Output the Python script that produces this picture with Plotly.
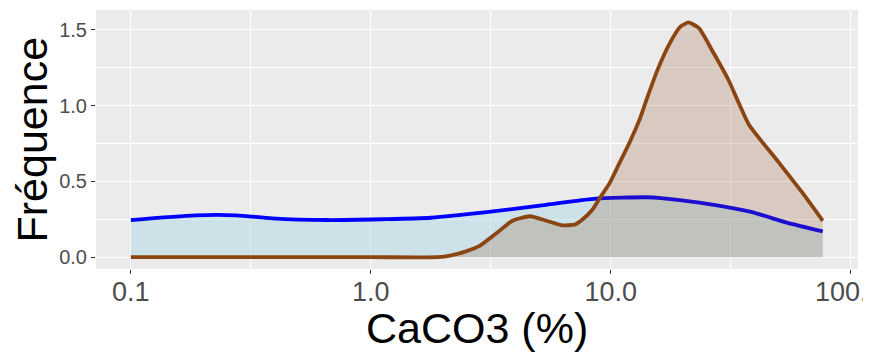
import plotly.graph_objects as go

# Blue series (CaCO3 %, frequency)
blue_x = [0.1, 0.186, 0.275, 0.389, 0.66, 1.1, 1.78, 3.16, 5.37, 8.5, 14.1, 16.2, 23.4, 38.0, 53.7, 76.4]
blue_y = [0.245, 0.276, 0.276, 0.256, 0.245, 0.25, 0.26, 0.30, 0.345, 0.385, 0.395, 0.39, 0.36, 0.30, 0.23, 0.17]

# Brown series
brown_x = [0.1, 0.5, 1.0, 1.9, 2.14, 2.51, 2.84, 3.35, 3.89, 4.6, 5.4, 6.3, 7.08, 7.64, 8.41, 9.0, 9.9,
           10.9, 12.0, 13.2, 14.1, 15.7, 17.6, 19.5, 21.1, 23.3, 26.3, 30.9, 37.6, 50.1, 62.5, 76.4]
brown_y = [0.0, 0.0, 0.0, 0.0, 0.01, 0.04, 0.074, 0.16, 0.24, 0.27, 0.24, 0.21, 0.215, 0.25, 0.316, 0.39, 0.49,
           0.625, 0.76, 0.91, 1.04, 1.24, 1.41, 1.52, 1.548, 1.51, 1.37, 1.17, 0.875, 0.625, 0.43, 0.24]

x_ticks = [0.1, 1, 10, 100]
x_ticklabels = ["0.1", "1.0", "10.0", ""]
x_last_label = "100."   # last tick label, cut by the image edge in the reference
x_minor = [0.316, 3.16, 31.6]
y_ticks = [0.0, 0.5, 1.0, 1.5]
y_ticklabels = ["0.0", "0.5", "1.0", "1.5"]
y_minor = [0.25, 0.75, 1.25]

x_title = "CaCO3 (%)"
y_title = "Fréquence"

fig = go.Figure()
fig.add_trace(go.Scatter(
    x=blue_x, y=blue_y, mode="lines", fill="tozeroy",
    fillcolor="rgba(173,216,230,0.5)",
    line=dict(color="#0000FF", width=3.8, shape="spline", smoothing=0.7),
    showlegend=False))
fig.add_trace(go.Scatter(
    x=brown_x, y=brown_y, mode="lines", fill="tozeroy",
    fillcolor="rgba(139,69,19,0.2)",
    line=dict(color="#8B4513", width=3.8, shape="spline", smoothing=0.5),
    showlegend=False))

font_family = "Liberation Sans, Arial, sans-serif"
# the page body adds an 8px offset; figure is sized to fill the rest of the window
fig.update_layout(
    width=863, height=349,
    margin=dict(l=88, r=13, t=2, b=88),
    paper_bgcolor="white", plot_bgcolor="#EBEBEB",
    font=dict(family=font_family),
)
fig.update_xaxes(
    type="log", range=[-1.145, 2.03], automargin=False,
    tickvals=x_ticks, ticktext=x_ticklabels,
    tickfont=dict(size=27, color="#4D4D4D"),
    ticks="outside", ticklen=4, tickcolor="#333333", tickwidth=1,
    ticklabelstandoff=-5,
    showgrid=True, gridcolor="white", gridwidth=1.3,
    minor=dict(tickvals=x_minor, showgrid=True, gridcolor="white", gridwidth=0.6, ticks=""),
    zeroline=False, showline=False,
)
fig.update_yaxes(
    range=[-0.078, 1.63], automargin=False,
    tickvals=y_ticks, ticktext=y_ticklabels,
    tickfont=dict(size=20, color="#4D4D4D"),
    ticks="outside", ticklen=4, tickcolor="#333333", tickwidth=1,
    showgrid=True, gridcolor="white", gridwidth=1.3,
    minor=dict(tickvals=y_minor, showgrid=True, gridcolor="white", gridwidth=0.6, ticks=""),
    zeroline=False, showline=False,
)
fig.add_annotation(text=x_last_label, xref="x", yref="paper", x=2, y=0,
                   xanchor="left", yanchor="middle", xshift=-38, yshift=-23,
                   showarrow=False, font=dict(size=27, color="#4D4D4D"))
fig.add_annotation(text=x_title, xref="paper", yref="paper", x=0.5, y=0,
                   xanchor="center", yanchor="middle", yshift=-59, showarrow=False,
                   font=dict(size=43, color="black"))
fig.add_annotation(text=y_title, xref="paper", yref="paper", x=0, y=0.5,
                   xanchor="center", yanchor="middle", xshift=-65, textangle=-90,
                   showarrow=False, font=dict(size=43, color="black"))

fig.write_html("out.html")
